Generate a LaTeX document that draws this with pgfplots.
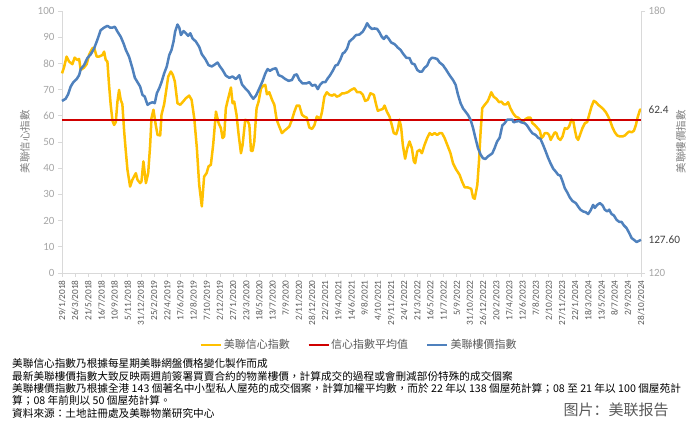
\documentclass[border=0pt]{standalone}
\usepackage{fontspec}
\setmainfont{Carlito}
\newfontfamily\cjk{Noto Sans CJK TC}
\newfontfamily\cjksc{Noto Sans CJK SC}
\usepackage{pgfplots}
\pgfplotsset{compat=1.18}
\usepackage{pgfplotstable}

\definecolor{cyellow}{HTML}{FFC000}
\definecolor{cred}{HTML}{D00000}
\definecolor{cblue}{HTML}{4F81BD}
\definecolor{caxis}{HTML}{D9D9D9}
\definecolor{cyt}{HTML}{A6A6A6}
\definecolor{cxt}{HTML}{595959}
\definecolor{ctitle}{HTML}{7F7F7F}
\definecolor{clab}{HTML}{404040}

\pgfplotstableread{
w v
0 76.2
1.2 78.4
2.8 82.6
4.3 80.7
6.3 79.7
7.7 82.2
9.3 81.3
10.4 81.7
11.4 77.5
13.4 78.4
15.0 79.7
16.4 83.2
18.5 85.8
19.5 86.0
21.1 82.6
22.5 82.6
24.6 83.2
25.6 84.5
26.6 81.3
27.6 80.7
28.6 71.8
29.6 64.2
30.7 58.1
31.7 56.5
32.7 57.6
33.7 65.4
34.7 69.9
35.7 66.1
36.7 64.4
37.8 54.0
38.8 46.4
39.8 39.4
41.4 33.0
42.8 35.6
44.9 38.1
45.9 35.6
47.5 34.3
48.3 34.9
49.5 42.6
51.0 34.3
52.4 38.1
53.6 48.9
54.4 59.1
55.6 62.3
57.0 56.5
58.1 52.7
59.7 52.5
60.5 60.4
62.1 64.4
63.1 68.6
64.6 75.0
66.2 76.9
67.4 75.6
68.6 73.1
70.2 64.8
71.9 64.2
73.3 65.2
75.3 66.7
77.3 67.7
78.8 66.1
80.4 59.1
82.0 47.6
83.4 33.7
85.0 25.4
86.4 36.8
87.9 38.1
89.1 40.7
90.5 41.3
91.9 48.9
93.6 61.6
95.2 57.2
96.6 55.3
97.6 51.5
98.6 52.1
99.6 62.9
101.3 67.3
102.7 70.8
103.7 64.8
104.7 65.4
106.1 60.4
107.4 52.7
108.8 45.7
109.8 48.9
111.4 58.5
112.8 58.1
113.9 56.5
114.9 46.6
115.9 46.6
116.9 50.2
118.3 62.9
119.5 65.4
121.0 70.5
122.4 71.5
123.6 71.8
124.6 68.2
126.0 69.0
127.7 66.1
129.1 64.2
130.5 58.5
132.1 55.9
133.7 53.4
135.2 54.3
136.6 55.0
138.2 55.9
139.8 58.5
141.3 61.6
142.7 63.9
144.3 63.9
145.9 60.4
147.3 59.7
148.8 59.3
150.4 55.5
152.0 55.0
153.4 56.3
154.9 59.7
156.1 59.3
156.9 58.5
158.1 61.6
159.5 67.3
161.0 69.0
162.6 68.0
164.2 67.7
165.6 68.2
167.0 67.3
168.7 67.7
170.3 68.6
171.7 68.6
173.7 69.0
175.8 69.9
177.8 70.5
179.4 69.0
181.4 69.0
182.9 68.0
184.3 65.7
185.9 66.1
187.5 68.6
189.6 68.0
191.0 64.2
192.0 61.9
193.6 62.3
195.0 62.6
196.1 63.9
197.5 61.6
199.1 59.7
200.5 56.5
201.7 53.4
203.2 53.0
204.2 55.0
205.2 58.5
206.2 55.5
207.2 48.9
208.6 43.6
209.9 47.6
211.3 50.2
212.7 47.6
213.9 42.6
214.7 41.9
216.0 46.4
217.4 47.0
218.8 45.7
220.4 48.9
222.0 51.5
223.5 53.4
224.9 52.7
226.5 53.4
228.1 52.7
229.6 53.4
231.0 53.4
232.6 51.5
234.6 48.3
236.2 45.7
237.7 41.9
239.7 39.4
241.7 37.5
243.2 34.9
244.8 32.7
246.4 32.7
247.8 32.4
248.8 32.1
249.9 28.8
250.9 28.3
252.5 33.7
253.5 42.6
254.5 54.0
255.5 62.9
257.0 64.2
258.6 65.4
259.6 66.7
261.0 69.0
262.4 67.3
264.1 66.5
265.7 65.2
267.1 65.4
268.5 64.4
270.2 64.4
271.2 65.2
272.6 62.9
274.2 61.0
275.8 59.7
277.3 59.3
278.7 58.5
280.3 57.8
281.9 58.8
283.3 59.3
284.8 59.3
286.0 57.2
287.4 56.5
288.8 55.5
290.5 54.3
291.5 51.5
292.5 52.1
293.5 53.4
294.9 53.4
296.1 52.7
297.1 50.8
298.2 52.1
299.6 53.7
300.6 53.4
301.6 51.5
303.0 50.8
304.3 52.1
305.7 55.3
307.1 55.0
308.3 55.9
309.7 58.5
310.8 58.1
311.8 54.6
312.8 51.7
313.8 50.8
314.8 52.5
316.4 55.3
317.9 57.2
319.3 57.6
320.5 60.4
321.9 63.5
323.3 65.7
324.6 65.2
326.0 64.2
327.4 63.5
329.0 62.6
330.6 61.4
332.1 59.7
333.5 57.6
334.7 55.5
336.1 53.7
337.5 52.5
339.2 52.1
340.8 52.1
342.2 52.5
343.6 53.4
344.9 54.0
346.3 53.7
347.7 54.3
348.9 56.5
349.9 59.3
351.4 62.3
352.0 62.4
}\yellowdata

\pgfplotstableread{
w v
0 159.4
2.2 159.9
3.7 160.9
5.3 162.7
6.9 163.7
8.9 164.4
10.4 165.3
11.4 166.7
13.4 167.6
15.4 169.2
17.5 170.1
19.5 171.4
21.5 173.4
23.5 175.6
25.6 176.2
27.6 176.6
29.2 176.2
30.7 176.2
32.1 176.4
33.7 175.3
35.7 174.1
37.4 172.6
38.8 171.1
40.8 169.5
42.8 166.9
44.3 164.7
45.9 163.7
47.5 162.7
48.9 160.8
50.3 160.4
52.0 158.5
53.6 158.9
55.0 159.1
56.4 158.9
57.7 161.2
59.1 162.3
60.5 163.7
62.1 165.7
63.7 167.3
65.2 169.9
66.6 171.1
67.8 173.0
68.8 175.3
70.2 176.9
71.3 176.2
72.3 174.5
73.9 175.4
75.3 174.9
76.7 174.3
78.0 174.9
79.4 173.7
81.4 173.0
83.4 171.8
85.0 170.1
87.1 169.0
89.1 167.6
91.1 167.3
93.1 167.8
94.6 168.2
96.0 167.3
97.6 166.5
99.6 165.2
101.7 164.7
103.7 165.0
105.7 164.4
107.8 165.3
109.4 163.2
111.4 162.3
113.4 161.5
114.9 160.6
116.3 159.9
117.9 160.6
120.0 162.3
122.0 164.0
123.6 165.7
125.0 166.7
126.4 166.3
128.1 166.7
130.1 166.9
131.7 165.3
133.7 165.0
135.8 164.4
137.8 164.0
139.8 164.2
141.3 165.3
142.7 165.5
144.3 164.2
146.3 163.4
148.4 163.4
150.4 163.7
152.0 162.9
154.0 163.1
155.5 162.1
156.9 163.1
158.5 163.7
160.1 163.7
161.6 164.6
163.0 165.3
164.6 166.3
166.2 167.5
167.6 167.7
169.1 168.8
170.7 170.3
171.7 170.5
173.3 171.4
174.7 173.0
176.8 173.7
178.8 174.5
180.8 174.6
182.9 175.3
184.3 176.2
185.5 177.2
186.9 176.4
188.3 175.9
190.0 176.0
191.6 175.9
193.0 175.1
194.4 174.1
195.7 173.6
197.1 174.3
198.5 173.7
200.1 172.8
202.2 172.4
204.2 171.6
205.8 171.1
207.2 170.3
209.3 169.3
211.3 169.2
212.7 168.0
214.3 167.8
216.0 166.5
217.4 166.1
218.8 166.1
220.4 167.0
222.0 167.5
223.5 168.8
224.9 169.3
226.5 169.2
228.1 169.0
229.6 168.2
231.6 167.6
233.6 166.5
235.6 165.3
237.7 164.2
239.3 163.1
240.7 160.9
242.3 158.9
243.8 157.7
245.2 157.0
246.8 156.2
248.4 155.1
249.9 153.2
250.9 151.6
251.9 150.1
252.9 148.6
254.5 147.1
255.9 146.3
257.4 146.1
259.0 146.7
261.6 147.4
263.0 148.6
264.5 150.1
266.1 151.0
267.7 153.8
269.1 154.3
270.6 155.1
272.2 155.1
273.8 155.1
274.6 154.5
276.2 154.7
277.9 154.8
279.3 154.5
281.3 154.3
282.7 153.8
284.4 152.8
286.0 152.0
288.0 151.6
289.4 151.0
290.9 150.7
292.5 149.3
294.1 147.8
295.5 146.4
296.9 145.2
298.6 143.9
300.2 143.2
301.6 142.5
303.0 142.3
304.3 141.0
305.7 139.4
307.1 138.5
308.7 137.3
310.3 136.5
312.4 136.0
313.8 135.2
315.2 134.5
316.8 134.1
318.5 133.9
319.9 133.5
321.3 134.3
322.9 135.6
323.9 134.9
325.4 135.6
327.0 136.0
328.6 135.5
330.0 134.5
331.5 134.1
332.7 134.5
334.1 133.5
335.5 133.2
337.1 132.2
338.8 131.7
340.2 131.7
341.6 130.9
343.2 130.3
344.9 129.1
346.3 128.0
347.7 127.6
349.3 127.1
350.9 127.4
352.0 127.6
}\bluedata

\begin{document}
\begin{tikzpicture}
\useasboundingbox (0,0) rectangle (694pt,425pt);
\pgfplotsset{common/.style={
  width=579pt, height=262pt, scale only axis,
  at={(62pt,152pt)}, anchor=south west,
  xmin=0, xmax=352, clip=false,
  axis line style={draw=caxis, line width=0.8pt},
  tick style={draw=caxis, line width=0.8pt},
  tick align=outside, major tick length=4pt,
  /pgf/number format/assume math mode=true,
  yticklabel style={font=\fontsize{11}{12}\selectfont, text=cyt},
}}
\begin{axis}[common,
  ymin=0, ymax=100, ytick={0,10,...,100},
  axis y line*=left, axis x line*=bottom,
  xtick={0,8,...,352},
  xticklabels={29/1/2018,26/3/2018,21/5/2018,16/7/2018,10/9/2018,5/11/2018,31/12/2018,25/2/2019,22/4/2019,17/6/2019,12/8/2019,7/10/2019,2/12/2019,27/1/2020,23/3/2020,18/5/2020,13/7/2020,7/9/2020,2/11/2020,28/12/2020,22/2/2021,19/4/2021,14/6/2021,9/8/2021,4/10/2021,29/11/2021,24/1/2022,21/3/2022,16/5/2022,11/7/2022,5/9/2022,31/10/2022,26/12/2022,20/2/2023,17/4/2023,12/6/2023,7/8/2023,2/10/2023,27/11/2023,22/1/2024,18/3/2024,13/5/2024,8/7/2024,2/9/2024,28/10/2024},
  xticklabel style={rotate=90, anchor=east, font=\fontsize{9.3}{10}\selectfont, text=cxt},
  ylabel={\cjk 美聯信心指數},
  ylabel style={at={(axis description cs:-0.0639,0.5)}, anchor=center, font=\fontsize{10.5}{12}\selectfont, text=ctitle},
]
\addplot[cyellow, line width=2.5pt, line join=round] table[x=w, y=v]{\yellowdata};
\addplot[cred, line width=1.1pt] coordinates {(0,58.4) (352,58.4)};
\node[anchor=west, xshift=4pt, font=\fontsize{11.3}{12}\selectfont, text=clab] at (axis cs:352,62.4) {62.4};
\end{axis}
\begin{axis}[common,
  ymin=120, ymax=180, ytick={120,180},
  axis y line*=right, axis x line=none,
  ylabel={\cjk 美聯樓價指數},
  ylabel style={at={(axis description cs:1.069,0.5)}, anchor=center, rotate=0, font=\fontsize{10.5}{12}\selectfont, text=ctitle},
  legend columns=3,
  legend cell align=left,
  legend style={at={(axis description cs:0.513,-0.275)}, anchor=center, draw=none, fill=none,
    font=\cjk\fontsize{11}{13}\selectfont, text=cxt,
    /tikz/every even column/.append style={column sep=16pt}},
  legend image code/.code={\draw[#1] (0pt,0pt) -- (20pt,0pt);},
]
\addlegendimage{cyellow, line width=2.5pt}
\addlegendentry{美聯信心指數}
\addlegendimage{cred, line width=1.2pt}
\addlegendentry{信心指數平均值}
\addplot[cblue, line width=2.5pt, line join=round] table[x=w, y=v]{\bluedata};
\addlegendentry{美聯樓價指數}
\node[anchor=west, xshift=4pt, font=\fontsize{11.3}{12}\selectfont, text=clab] at (axis cs:352,127.6) {127.60};
\end{axis}
\begin{scope}[every node/.style={anchor=base west, inner sep=0pt, font=\cjk\fontsize{10.65}{12}\selectfont, text=black}]
\node at (12pt,57pt) {美聯信心指數乃根據每星期美聯網盤價格變化製作而成};
\node at (12pt,44.7pt) {最新美聯樓價指數大致反映兩週前簽署買賣合約的物業樓價，計算成交的過程或會刪減部份特殊的成交個案};
\node at (12pt,32.4pt) {美聯樓價指數乃根據全港 143 個著名中小型私人屋苑的成交個案，計算加權平均數，而於 22 年以 138 個屋苑計算；08 至 21 年以 100 個屋苑計};
\node at (12pt,20.1pt) {算；08 年前則以 50 個屋苑計算。};
\node at (12pt,7.8pt) {資料來源：土地註冊處及美聯物業研究中心};
\end{scope}
\node[anchor=center, inner sep=0pt, font=\cjksc\fontsize{15}{16}\selectfont, text=cxt] at (616pt,15pt) {图片：美联报告};
\end{tikzpicture}
\end{document}
